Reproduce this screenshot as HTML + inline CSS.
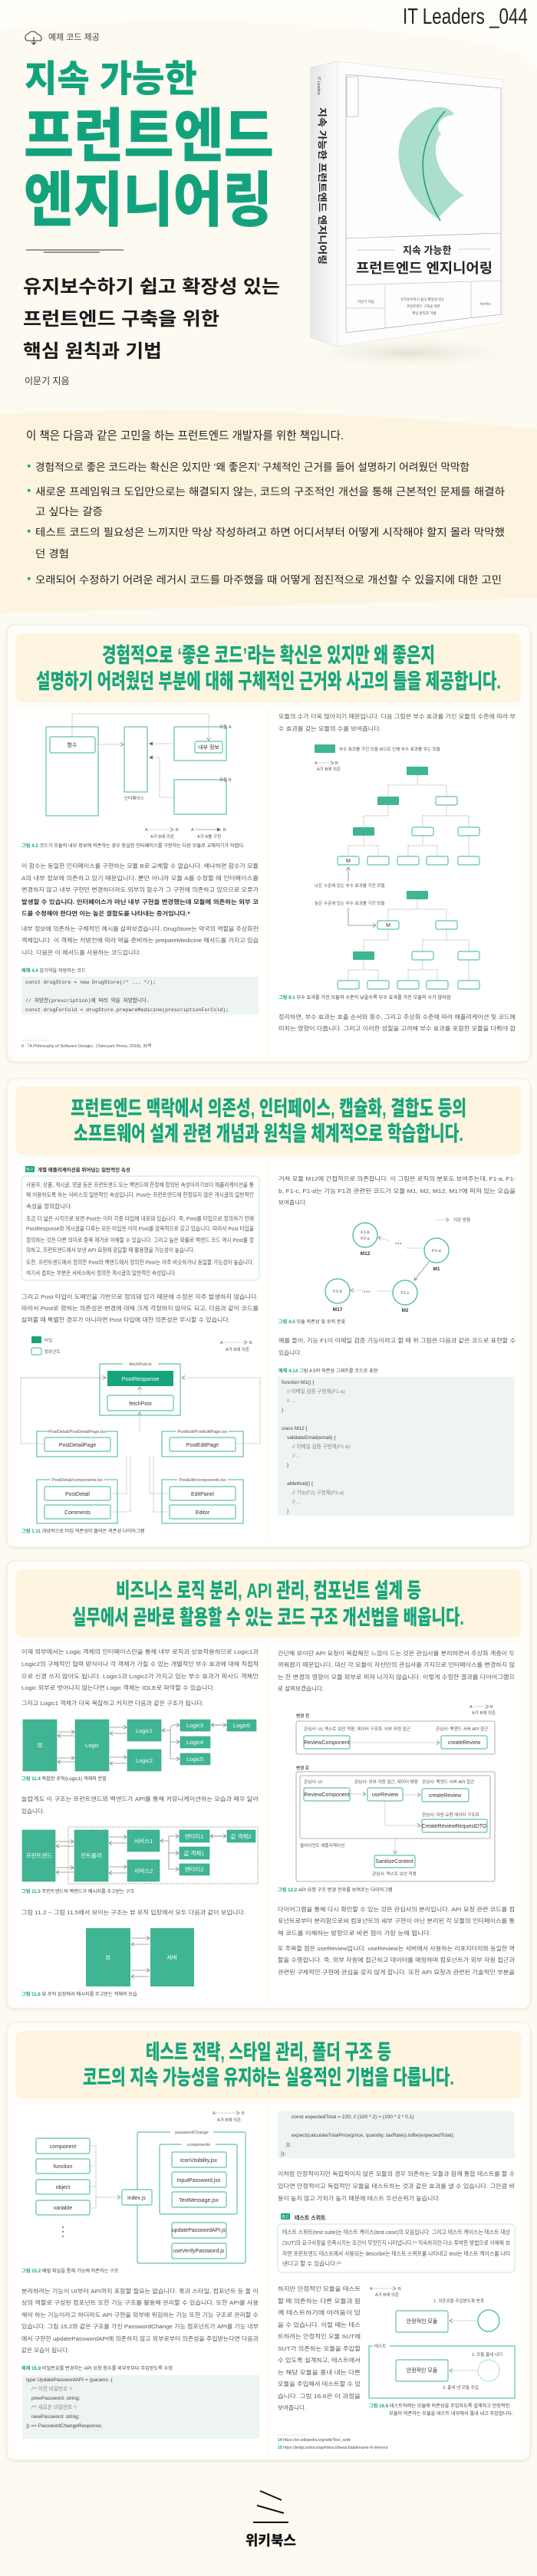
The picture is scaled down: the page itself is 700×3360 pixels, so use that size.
<!DOCTYPE html>
<html><head><meta charset="utf-8">
<style>
html,body{margin:0;padding:0;background:#fcfaf1;}
svg{display:block;}
text{font-family:"Liberation Sans","Noto Sans CJK KR",sans-serif;}
.b{font-size:7.6px;fill:#5a5a5a;}
.bs{font-size:7.6px;fill:#5a5a5a;font-family:"Noto Serif CJK SC","Liberation Serif",serif;}
.cap{font-size:6.2px;fill:#444;}
.capg{font-size:6.2px;fill:#1aa57c;font-weight:700;}
.code{font-size:6.6px;fill:#444;font-family:"Liberation Mono","Noto Sans CJK KR",monospace;}
.sm{font-size:5.6px;fill:#555;}
.nd{font-size:7px;fill:#333;text-anchor:middle;}
.ndw{font-size:7.5px;fill:#fff;text-anchor:middle;}
.h{font-size:27px;font-weight:900;fill:#17a57b;}
.box{fill:#fff;stroke:#5fc4a5;stroke-width:1.2;}
.gbox{fill:#3fb594;}
.fr{fill:none;stroke:#5fc4a5;stroke-width:1.2;}
.dl{fill:none;stroke:#9a9a9a;stroke-width:.8;stroke-dasharray:1.4 1.2;}
.sl{fill:none;stroke:#8a8a8a;stroke-width:.8;}
</style></head><body>
<svg width="700" height="3360" viewBox="0 0 700 3360" xmlns="http://www.w3.org/2000/svg">
<defs>
<marker id="a" markerWidth="6" markerHeight="6" refX="5" refY="3" orient="auto" markerUnits="userSpaceOnUse"><path d="M1,0.5 L5,3 L1,5.5" fill="none" stroke="#888" stroke-width=".8"/></marker>
<marker id="f" markerWidth="6" markerHeight="6" refX="5" refY="3" orient="auto" markerUnits="userSpaceOnUse"><path d="M0,0.5 L5,3 L0,5.5z" fill="#666"/></marker>
<filter id="sh" x="-5%" y="-5%" width="110%" height="110%"><feDropShadow dx="0" dy="1" stdDeviation="1.5" flood-color="#000" flood-opacity=".08"/></filter>
<linearGradient id="sp" x1="0" x2="1"><stop offset="0" stop-color="#e6e6e6"/><stop offset="1" stop-color="#fbfbfb"/></linearGradient>
<radialGradient id="bs" cx=".5" cy=".5" r=".5"><stop offset="0" stop-color="#d9d4c4" stop-opacity=".7"/><stop offset="1" stop-color="#fcfaf1" stop-opacity="0"/></radialGradient>
</defs>

<!-- HERO -->
<rect x="0" y="0" width="700" height="800" fill="#fcfaf1"/>
<path d="M0,40 Q300,10 620,55 Q690,70 700,90 L700,0 L0,0z" fill="#fefdf8"/>
<text x="525" y="31" font-size="29" font-weight="300" fill="#222" textLength="163" lengthAdjust="spacingAndGlyphs">IT Leaders _044</text>
<g transform="translate(32,41)"><path d="M3,12 a5,5 0 0 1 2,-9 a7,7 0 0 1 12,1 a5,5 0 0 1 4,8 z" fill="none" stroke="#333" stroke-width="1"/><path d="M12,7 v10 M9,14 l3,3 l3,-3" fill="none" stroke="#333" stroke-width="1"/></g>
<text x="63" y="52" font-size="11" fill="#444">예제 코드 제공</text>
<text x="32" y="119" font-size="48" font-weight="900" fill="#13a37c" textLength="225" lengthAdjust="spacingAndGlyphs">지속 가능한</text>
<text x="31" y="204" font-size="76" font-weight="900" fill="#13a37c" textLength="326" lengthAdjust="spacingAndGlyphs">프런트엔드</text>
<text x="31" y="288" font-size="78" font-weight="900" fill="#13a37c" textLength="324" lengthAdjust="spacingAndGlyphs">엔지니어링</text>
<line x1="34" y1="326" x2="161" y2="326" stroke="#333" stroke-width="1"/>
<line x1="57" y1="329" x2="130" y2="329" stroke="#333" stroke-width="1"/>
<text x="30" y="382" font-size="24" font-weight="700" fill="#1a1a1a" textLength="335" lengthAdjust="spacingAndGlyphs">유지보수하기 쉽고 확장성 있는</text>
<text x="30" y="424" font-size="24" font-weight="700" fill="#1a1a1a" textLength="256" lengthAdjust="spacingAndGlyphs">프런트엔드 구축을 위한</text>
<text x="30" y="466" font-size="24" font-weight="700" fill="#1a1a1a" textLength="181" lengthAdjust="spacingAndGlyphs">핵심 원칙과 기법</text>
<text x="32" y="501" font-size="12" fill="#333">이문기 지음</text>

<!-- book -->
<ellipse cx="535" cy="460" rx="150" ry="22" fill="url(#bs)"/>
<polygon points="405,88 440,80 440,452 405,440" fill="url(#sp)" stroke="#d5d5d5" stroke-width=".6"/>
<polygon points="440,80 655,104 655,420 440,452" fill="#fdfdfd" stroke="#ddd" stroke-width=".6"/>
<polygon points="451,97 653,115 653,410 451,434" fill="none" stroke="#999" stroke-width=".6"/>
<line x1="451" y1="311" x2="653" y2="304" stroke="#999" stroke-width=".6"/>
<line x1="451" y1="372" x2="653" y2="366" stroke="#aaa" stroke-width=".5"/>
<line x1="502" y1="372" x2="502" y2="428" stroke="#aaa" stroke-width=".5"/>
<line x1="614" y1="368" x2="614" y2="414" stroke="#aaa" stroke-width=".5"/>
<line x1="451" y1="402" x2="502" y2="402" stroke="#aaa" stroke-width=".5"/>
<rect x="452" y="100" width="15" height="52" fill="none" stroke="#999" stroke-width=".5"/>
<path d="M570,285 C520,250 505,190 535,160 C555,135 585,135 592,150 C575,150 565,165 575,175 C560,190 568,230 605,255 C590,262 585,272 570,285z" fill="#8fd3b9" opacity=".75"/>
<path d="M574,288 C545,240 540,190 580,145" fill="none" stroke="#17a57b" stroke-width="1.6"/>
<text x="525" y="331" font-size="13" font-weight="700" fill="#222">지속 가능한</text>
<line x1="466" y1="326" x2="515" y2="326" stroke="#999" stroke-width=".5"/>
<line x1="598" y1="325" x2="640" y2="325" stroke="#999" stroke-width=".5"/>
<text x="464" y="356" font-size="18" font-weight="700" fill="#222" textLength="178" lengthAdjust="spacingAndGlyphs">프런트엔드 엔지니어링</text>
<text x="522" y="392" font-size="4.5" fill="#555">유지보수하기 쉽고 확장성 있는</text>
<text x="530" y="401" font-size="4.5" fill="#555">프런트엔드 구축을 위한</text>
<text x="537" y="410" font-size="4.5" fill="#555">핵심 원칙과 기법</text>
<text x="466" y="395" font-size="4.5" fill="#555">이문기 지음</text>
<text x="626" y="398" font-size="4" fill="#555">위키북스</text>
<text transform="translate(416,140) rotate(90)" font-size="12" font-weight="700" fill="#222" textLength="205" lengthAdjust="spacingAndGlyphs">지속 가능한 프런트엔드 엔지니어링</text>
<text transform="translate(414,100) rotate(90)" font-size="5" fill="#444">IT Leaders</text>

<!-- band -->
<path d="M0,540 Q350,525 700,560 L700,780 L0,800z" fill="#fcf4df"/>
<text x="34" y="573" font-size="15" fill="#222" textLength="414" lengthAdjust="spacingAndGlyphs">이 책은 다음과 같은 고민을 하는 프런트엔드 개발자를 위한 책입니다.</text>
<g font-size="13.5" fill="#222">
<rect x="36" y="606" width="3.5" height="3.5" fill="#19a57c"/>
<text x="46" y="614" textLength="566" lengthAdjust="spacingAndGlyphs">경험적으로 좋은 코드라는 확신은 있지만 ‘왜 좋은지’ 구체적인 근거를 들어 설명하기 어려웠던 막막함</text>
<rect x="36" y="638" width="3.5" height="3.5" fill="#19a57c"/>
<text x="46" y="646" textLength="612" lengthAdjust="spacingAndGlyphs">새로운 프레임워크 도입만으로는 해결되지 않는, 코드의 구조적인 개선을 통해 근본적인 문제를 해결하</text>
<text x="46" y="672" textLength="88" lengthAdjust="spacingAndGlyphs">고 싶다는 갈증</text>
<rect x="36" y="691" width="3.5" height="3.5" fill="#19a57c"/>
<text x="46" y="699" textLength="612" lengthAdjust="spacingAndGlyphs">테스트 코드의 필요성은 느끼지만 막상 작성하려고 하면 어디서부터 어떻게 시작해야 할지 몰라 막막했</text>
<text x="46" y="727" textLength="44" lengthAdjust="spacingAndGlyphs">던 경험</text>
<rect x="36" y="753" width="3.5" height="3.5" fill="#19a57c"/>
<text x="46" y="761" textLength="608" lengthAdjust="spacingAndGlyphs">오래되어 수정하기 어려운 레거시 코드를 마주했을 때 어떻게 점진적으로 개선할 수 있을지에 대한 고민</text>
</g>

<!-- CARDS -->
<g filter="url(#sh)">
<rect x="9" y="815" width="682" height="570" rx="10" fill="#fefdf9" stroke="#eeebdf"/>
<rect x="9" y="1407" width="682" height="611" rx="10" fill="#fefdf9" stroke="#eeebdf"/>
<rect x="9" y="2036" width="682" height="584" rx="10" fill="#fefdf9" stroke="#eeebdf"/>
<rect x="9" y="2638" width="682" height="571" rx="10" fill="#fefdf9" stroke="#eeebdf"/>
</g>
<rect x="20" y="826" width="660" height="90" rx="10" fill="#fdf5df"/>
<rect x="20" y="1417" width="660" height="90" rx="10" fill="#fdf5df"/>
<rect x="20" y="2047" width="660" height="89" rx="10" fill="#fdf5df"/>
<rect x="20" y="2649" width="660" height="89" rx="10" fill="#fdf5df"/>
<g fill="#fffffd">
<rect x="20" y="923" width="327" height="455"/><rect x="353" y="923" width="327" height="455"/>
<rect x="20" y="1514" width="327" height="497"/><rect x="353" y="1514" width="327" height="497"/>
<rect x="20" y="2143" width="327" height="470"/><rect x="353" y="2143" width="327" height="470"/>
<rect x="20" y="2745" width="327" height="457"/><rect x="353" y="2745" width="327" height="457"/>
</g>

<text class="h" x="133" y="864" textLength="434" lengthAdjust="spacingAndGlyphs">경험적으로 ‘좋은 코드’라는 확신은 있지만 왜 좋은지</text>
<text class="h" x="47" y="898" textLength="606" lengthAdjust="spacingAndGlyphs">설명하기 어려웠던 부분에 대해 구체적인 근거와 사고의 틀을 제공합니다.</text>
<text class="h" x="92" y="1455" textLength="516" lengthAdjust="spacingAndGlyphs">프런트엔드 맥락에서 의존성, 인터페이스, 캡슐화, 결합도 등의</text>
<text class="h" x="96" y="1488" textLength="508" lengthAdjust="spacingAndGlyphs">소프트웨어 설계 관련 개념과 원칙을 체계적으로 학습합니다.</text>
<text class="h" x="151" y="2084" textLength="398" lengthAdjust="spacingAndGlyphs">비즈니스 로직 분리, API 관리, 컴포넌트 설계 등</text>
<text class="h" x="94" y="2119" textLength="511" lengthAdjust="spacingAndGlyphs">실무에서 곧바로 활용할 수 있는 코드 구조 개선법을 배웁니다.</text>
<text class="h" x="190" y="2686" textLength="320" lengthAdjust="spacingAndGlyphs">테스트 전략, 스타일 관리, 폴더 구조 등</text>
<text class="h" x="108" y="2719" textLength="484" lengthAdjust="spacingAndGlyphs">코드의 지속 가능성을 유지하는 실용적인 기법을 다룹니다.</text>

<!-- SECTION 1 LEFT -->
<rect x="60" y="948" width="68" height="116" class="fr"/>
<rect x="65" y="961" width="59" height="21" rx="2" class="box"/>
<text class="nd" x="94" y="974">함수</text>
<rect x="162" y="948" width="30" height="85" class="fr"/>
<text class="sm" x="162" y="1043">인터페이스</text>
<rect x="227" y="948" width="68" height="44" class="fr"/>
<text class="sm" x="286" y="950">모듈 A</text>
<rect x="254" y="967" width="36" height="15" rx="2" class="box"/>
<text class="nd" x="272" y="977" font-size="6">내부 정보</text>
<rect x="227" y="1017" width="68" height="45" class="fr"/>
<text class="sm" x="286" y="1019">모듈 B</text>
<path class="dl" d="M94,961 V931 H272 V966" marker-end="url(#a)"/>
<path class="dl" d="M124,971 H161" marker-end="url(#a)"/>
<path class="dl" d="M227,970 H194" marker-end="url(#f)"/>
<path class="dl" d="M227,1040 H208 V988 H194" marker-end="url(#f)"/>
<text class="sm" x="189" y="1084">A</text><path class="dl" d="M195,1082 H226" marker-end="url(#a)"/><text class="sm" x="229" y="1084">B</text>
<text class="sm" x="196" y="1093">A가 B에 의존</text>
<text class="sm" x="249" y="1084">A</text><path class="sl" d="M255,1082 H288" marker-end="url(#f)"/><text class="sm" x="291" y="1084">B</text>
<text class="sm" x="257" y="1093">A가 B를 구현</text>
<text x="28" y="1105"><tspan class="capg">그림 4.2 </tspan><tspan class="cap">코드가 모듈의 내부 정보에 의존하는 경우 동일한 인터페이스를 구현하는 다른 모듈로 교체하기가 어렵다.</tspan></text>
<g class="bs">
<text x="28" y="1132" textLength="309" lengthAdjust="spacingAndGlyphs">이 함수는 동일한 인터페이스를 구현하는 모듈 B로 교체할 수 없습니다. 왜냐하면 함수가 모듈</text>
<text x="28" y="1148" textLength="309" lengthAdjust="spacingAndGlyphs">A의 내부 정보에 의존하고 있기 때문입니다. 뿐만 아니라 모듈 A를 수정할 때 인터페이스를</text>
<text x="28" y="1163" textLength="309" lengthAdjust="spacingAndGlyphs">변경하지 않고 내부 구현만 변경하더라도 외부의 함수가 그 구현에 의존하고 있으므로 오류가</text>
<text x="28" y="1179" textLength="309" lengthAdjust="spacingAndGlyphs" font-weight="700" fill="#333">발생할 수 있습니다. 인터페이스가 아닌 내부 구현을 변경했는데 모듈에 의존하는 외부 코</text>
<text x="28" y="1194" textLength="220" lengthAdjust="spacingAndGlyphs" font-weight="700" fill="#333">드를 수정해야 한다면 이는 높은 결합도를 나타내는 증거입니다.⁶</text>
<text x="28" y="1214" textLength="309" lengthAdjust="spacingAndGlyphs">내부 정보에 의존하는 구체적인 예시를 살펴보겠습니다. DrugStore는 약국의 역할을 추상화한</text>
<text x="28" y="1229" textLength="309" lengthAdjust="spacingAndGlyphs">객체입니다. 이 객체는 처방전에 따라 약을 준비하는 prepareMedicine 메서드를 가지고 있습</text>
<text x="28" y="1245" textLength="156" lengthAdjust="spacingAndGlyphs">니다. 다음은 이 메서드를 사용하는 코드입니다.</text>
</g>
<text x="28" y="1268"><tspan class="capg">예제 4.4 </tspan><tspan class="cap">감기약을 처방하는 코드</tspan></text>
<rect x="28" y="1274" width="309" height="49" fill="#eef4f1"/>
<text class="code" x="33" y="1283">const drugStore = new DrugStore(/* ... */);</text>
<text class="code" x="33" y="1307" fill="#888">// 처방전(prescription)에 따라 약을 처방합니다.</text>
<text class="code" x="33" y="1319">const drugForCold = drugStore.prepareMedicine(prescriptionForCold);</text>
<line x1="28" y1="1357" x2="64" y2="1357" stroke="#ccc" stroke-width=".6"/>
<text class="sm" x="28" y="1366">6  『A Philosophy of Software Design』(Yaknyam Press, 2018), 35쪽</text>

<!-- SECTION 1 RIGHT -->
<g class="bs">
<text x="363" y="937" textLength="309" lengthAdjust="spacingAndGlyphs">모듈의 수가 더욱 많아지기 때문입니다. 다음 그림은 부수 효과를 가진 모듈의 수준에 따라 부</text>
<text x="363" y="953" textLength="134" lengthAdjust="spacingAndGlyphs">수 효과를 갖는 모듈의 수를 보여줍니다.</text>
<text x="363" y="1329" textLength="309" lengthAdjust="spacingAndGlyphs">정리하면, 부수 효과는 호출 순서와 횟수, 그리고 추상화 수준에 따라 애플리케이션 및 코드에</text>
<text x="363" y="1344" textLength="309" lengthAdjust="spacingAndGlyphs">미치는 영향이 다릅니다. 그리고 이러한 성질을 고려해 부수 효과를 포함한 모듈을 다뤄야 합</text>
</g>
<rect x="410" y="971" width="27" height="11" rx="1" class="gbox"/>
<text class="sm" x="442" y="979">부수 효과를 가진 모듈 M으로 인해 부수 효과를 갖는 모듈</text>
<text class="sm" x="410" y="997">A</text><path class="dl" d="M415,995 H435" marker-end="url(#a)"/><text class="sm" x="437" y="997">B</text>
<text class="sm" x="413" y="1005">A가 B에 의존</text>
<g id="t1">
<path class="dl" d="M544,1011 V1024 M506,1024 H582 M506,1024 V1038 M582,1024 V1038 M506,1050 V1064 H474 V1078 M582,1050 V1064 M551,1064 H611 M551,1064 V1078 M611,1064 V1078 M474,1090 V1103 M454,1103 H493 M454,1103 V1116 M493,1103 V1116 M551,1090 V1103 M532,1103 H570 M532,1103 V1116 M570,1103 V1116 M611,1090 V1116"/>
<rect x="530" y="1000" width="28" height="11" rx="1" class="gbox"/>
<rect x="492" y="1039" width="28" height="11" rx="1" class="gbox"/>
<rect x="568" y="1039" width="28" height="11" rx="2" class="box"/>
<rect x="460" y="1079" width="28" height="11" rx="1" class="gbox"/>
<rect x="537" y="1079" width="28" height="11" rx="2" class="box"/>
<rect x="597" y="1079" width="28" height="11" rx="2" class="box"/>
<rect x="440" y="1117" width="28" height="11" rx="2" class="box"/>
<rect x="479" y="1117" width="28" height="11" rx="2" class="box"/>
<rect x="518" y="1117" width="28" height="11" rx="2" class="box"/>
<rect x="556" y="1117" width="28" height="11" rx="2" class="box"/>
<rect x="597" y="1117" width="28" height="11" rx="2" class="box"/>
</g>
<text class="nd" x="454" y="1125" font-size="6">M</text>
<path class="sl" d="M454,1150 V1131" marker-end="url(#a)"/>
<text class="sm" x="410" y="1157">낮은 수준에 있는 부수 효과를 가진 모듈</text>
<use href="#t1" transform="translate(0,162)"/>
<rect x="492" y="1201" width="28" height="11" rx="2" class="box"/>
<text class="nd" x="506" y="1209" font-size="6">M</text>
<text class="sm" x="410" y="1180">높은 수준에 있는 부수 효과를 가진 모듈</text>
<path class="sl" d="M454,1184 V1207 H490" marker-end="url(#a)"/>
<text x="363" y="1303"><tspan class="capg">그림 9.1 </tspan><tspan class="cap">부수 효과를 가진 모듈의 수준이 낮을수록 부수 효과를 가진 모듈의 수가 많아짐</tspan></text>

<!-- SECTION 2 LEFT -->
<rect x="33" y="1521" width="12" height="8" rx="1" fill="#19a57c"/><text x="34" y="1527" font-size="5" fill="#fff">참고</text>
<text x="49" y="1528" font-size="6.5" font-weight="700" fill="#333">개별 애플리케이션을 뛰어넘는 일반적인 속성</text>
<rect x="28" y="1534" width="310" height="136" rx="5" fill="#fff" stroke="#cdeee2" stroke-width="1.2"/>
<g class="b" font-size="6.4">
<text x="34" y="1548" textLength="297" lengthAdjust="spacingAndGlyphs">사용자, 상품, 게시글, 댓글 등은 프런트엔드 또는 백엔드에 한정해 정의된 속성이라기보다 애플리케이션을 통</text>
<text x="34" y="1561" textLength="297" lengthAdjust="spacingAndGlyphs">해 이용하도록 하는 서비스의 일반적인 속성입니다. Post는 프런트엔드에 한정되지 않은 게시글의 일반적인</text>
<text x="34" y="1576">속성을 정의합니다.</text>
<text x="34" y="1592" textLength="297" lengthAdjust="spacingAndGlyphs">조금 더 넓은 시각으로 보면 Post는 이미 각종 타입에 내포돼 있습니다. 즉, Post를 타입으로 정의하기 전에</text>
<text x="34" y="1605" textLength="297" lengthAdjust="spacingAndGlyphs">PostResponse와 게시글을 다루는 모든 타입은 이미 Post를 암묵적으로 갖고 있습니다. 따라서 Post 타입을</text>
<text x="34" y="1620" textLength="297" lengthAdjust="spacingAndGlyphs">정의하는 것은 다른 의미로 중복 제거로 이해할 수 있습니다. 그리고 높은 확률로 백엔드 코드 역시 Post를 정</text>
<text x="34" y="1633" textLength="220" lengthAdjust="spacingAndGlyphs">의하고, 프런트엔드에서 보낸 API 요청에 응답할 때 활용했을 가능성이 높습니다.</text>
<text x="34" y="1649" textLength="297" lengthAdjust="spacingAndGlyphs">또한, 프런트엔드에서 정의한 Post와 백엔드에서 정의한 Post는 아주 비슷하거나 동일할 가능성이 높습니다.</text>
<text x="34" y="1663" textLength="196" lengthAdjust="spacingAndGlyphs">여기서 겹치는 부분은 서비스에서 정의한 게시글의 일반적인 속성입니다.</text>
</g>
<g class="bs">
<text x="28" y="1694" textLength="309" lengthAdjust="spacingAndGlyphs">그리고 Post 타입이 도메인을 기반으로 정의돼 있기 때문에 수정은 자주 발생하지 않습니다.</text>
<text x="28" y="1709" textLength="309" lengthAdjust="spacingAndGlyphs">따라서 Post로 향하는 의존성은 변경에 대해 크게 걱정하지 않아도 되고, 다음과 같이 코드를</text>
<text x="28" y="1724" textLength="272" lengthAdjust="spacingAndGlyphs">살펴볼 때 특별한 경우가 아니라면 Post 타입에 대한 의존성은 무시할 수 있습니다.</text>
</g>
<rect x="41" y="1743" width="13" height="9" rx="1" fill="#17a57b"/><text class="sm" x="58" y="1750">타입</text>
<rect x="41" y="1758" width="13" height="9" rx="2" class="box"/><text class="sm" x="58" y="1765">컴포넌트</text>
<text class="sm" x="287" y="1753">A</text><path class="dl" d="M293,1751 H322" marker-end="url(#a)"/><text class="sm" x="325" y="1753">B</text>
<text class="sm" x="294" y="1762">A가 B에 의존</text>
<path class="dl" d="M140,1797 H27 V1883 H58" />
<path class="dl" d="M27,1797 H138" marker-end="url(#a)"/>
<path class="dl" d="M339,1883 H307 M339,1883 V1797 H237" marker-end="url(#a)"/>
<path class="dl" d="M182,1867 V1842" marker-end="url(#a)"/>
<path class="dl" d="M182,1820 V1809" marker-end="url(#a)"/>
<path class="dl" d="M170,1900 V1972 H146 M165,1900 V1948 H146" />
<path class="dl" d="M195,1900 V1948 H219 M200,1900 V1972 H219" />
<rect x="130" y="1779" width="105" height="67" class="fr"/>
<rect x="160" y="1776" width="46" height="6" fill="#fffffd"/><text class="sm" x="183" y="1781" text-anchor="middle" font-size="4.8">fetchPost.ts</text>
<rect x="140" y="1788" width="86" height="20" class="gbox" fill="#17a57b" style="fill:#17a57b"/>
<text class="ndw" x="183" y="1801">PostResponse</text>
<rect x="140" y="1820" width="86" height="20" rx="2" class="box"/><text class="nd" x="183" y="1833">fetchPost</text>
<rect x="48" y="1867" width="105" height="33" class="fr"/>
<rect x="64" y="1864" width="74" height="6" fill="#fffffd"/><text class="sm" x="101" y="1869" text-anchor="middle" font-size="4.6">PostDetail/PostDetailPage.tsx</text>
<rect x="58" y="1875" width="86" height="18" rx="2" class="box"/><text class="nd" x="101" y="1887">PostDetailPage</text>
<rect x="211" y="1867" width="106" height="33" class="fr"/>
<rect x="230" y="1864" width="68" height="6" fill="#fffffd"/><text class="sm" x="264" y="1869" text-anchor="middle" font-size="4.6">PostEdit/PostEditPage.tsx</text>
<rect x="221" y="1875" width="86" height="18" rx="2" class="box"/><text class="nd" x="264" y="1887">PostEditPage</text>
<rect x="48" y="1930" width="105" height="57" class="fr"/>
<rect x="66" y="1927" width="70" height="6" fill="#fffffd"/><text class="sm" x="101" y="1932" text-anchor="middle" font-size="4.6">PostDetail/components.tsx</text>
<rect x="58" y="1939" width="86" height="18" rx="2" class="box"/><text class="nd" x="101" y="1951">PostDetail</text>
<rect x="58" y="1963" width="86" height="18" rx="2" class="box"/><text class="nd" x="101" y="1975">Comments</text>
<rect x="211" y="1930" width="106" height="57" class="fr"/>
<rect x="231" y="1927" width="66" height="6" fill="#fffffd"/><text class="sm" x="264" y="1932" text-anchor="middle" font-size="4.6">PostEdit/components.tsx</text>
<rect x="221" y="1939" width="86" height="18" rx="2" class="box"/><text class="nd" x="264" y="1951">EditPanel</text>
<rect x="221" y="1963" width="86" height="18" rx="2" class="box"/><text class="nd" x="264" y="1975">Editor</text>
<text x="28" y="1999"><tspan class="capg">그림 1.11 </tspan><tspan class="cap">개념적으로 타입 의존성이 줄어든 의존성 다이어그램</tspan></text>

<!-- SECTION 2 RIGHT -->
<g class="bs">
<text x="363" y="1540" textLength="309" lengthAdjust="spacingAndGlyphs">거쳐 모듈 M12에 간접적으로 의존합니다. 이 그림은 로직의 분포도 보여주는데, F1-a, F1-</text>
<text x="363" y="1556" textLength="309" lengthAdjust="spacingAndGlyphs">b, F1-c, F1-d는 기능 F1과 관련된 코드가 모듈 M1, M2, M12, M17에 퍼져 있는 모습을</text>
<text x="363" y="1571">보여줍니다.</text>
<text x="363" y="1751" textLength="309" lengthAdjust="spacingAndGlyphs">예를 들어, 기능 F1이 이메일 검증 기능이라고 할 때 위 그림은 다음과 같은 코드로 표현할 수</text>
<text x="363" y="1767">있습니다.</text>
</g>
<path class="dl" d="M568,1591 H585" marker-end="url(#a)"/><text class="sm" x="591" y="1593">의존 방향</text>
<g fill="#fff" stroke="#3fb594" stroke-width="1.2">
<circle cx="476" cy="1611" r="16"/><circle cx="569" cy="1631" r="16"/><circle cx="440" cy="1684" r="16"/><circle cx="528" cy="1686" r="16"/>
</g>
<text class="sm" x="476" y="1609" text-anchor="middle">F1-b</text><text class="sm" x="476" y="1617" text-anchor="middle">F2-a</text>
<text class="sm" x="569" y="1633" text-anchor="middle">F1-a</text>
<text class="sm" x="440" y="1686" text-anchor="middle">F1-d</text>
<text class="sm" x="528" y="1688" text-anchor="middle">F1-c</text>
<text x="476" y="1637" font-size="6.5" font-weight="700" fill="#333" text-anchor="middle">M12</text>
<text x="569" y="1657" font-size="6.5" font-weight="700" fill="#333" text-anchor="middle">M1</text>
<text x="440" y="1710" font-size="6.5" font-weight="700" fill="#333" text-anchor="middle">M17</text>
<text x="528" y="1711" font-size="6.5" font-weight="700" fill="#333" text-anchor="middle">M2</text>
<path class="dl" d="M553,1628 H530 M506,1618 L493,1614" marker-end="url(#a)"/>
<text x="515" y="1625" font-size="9" font-weight="700" fill="#444">···</text>
<path class="sl" d="M560,1645 L540,1670" marker-end="url(#a)"/>
<path class="dl" d="M512,1684 H492 M474,1683 H457" marker-end="url(#a)"/>
<text x="474" y="1688" font-size="9" font-weight="700" fill="#444">···</text>
<text x="363" y="1726"><tspan class="capg">그림 4.5 </tspan><tspan class="cap">모듈 의존성 및 로직 분포</tspan></text>
<text x="363" y="1790"><tspan class="capg">예제 4.14 </tspan><tspan class="cap">그림 4.5의 의존성 그래프를 코드로 표현</tspan></text>
<rect x="362" y="1796" width="309" height="181" fill="#eef4f1"/>
<g class="code">
<text x="367" y="1805">function M1() {</text>
<text x="374" y="1817" fill="#888">// 이메일 검증 구현체(F1-a)</text>
<text x="374" y="1829" fill="#888">// ...</text>
<text x="367" y="1841">}</text>
<text x="367" y="1865">class M12 {</text>
<text x="374" y="1877">validateEmail(email) {</text>
<text x="381" y="1889" fill="#888">// 이메일 검증 구현체(F1-b)</text>
<text x="381" y="1901" fill="#888">// ...</text>
<text x="374" y="1913">}</text>
<text x="374" y="1937">aMethod() {</text>
<text x="381" y="1949" fill="#888">// 기능(F2) 구현체(F2-a)</text>
<text x="381" y="1961" fill="#888">// ...</text>
<text x="374" y="1973">}</text>
</g>

<!-- SECTION 3 LEFT -->
<g class="bs">
<text x="28" y="2157" textLength="309" lengthAdjust="spacingAndGlyphs">이제 외부에서는 Logic 객체의 인터페이스만을 통해 내부 로직과 상호작용하므로 Logic1과</text>
<text x="28" y="2173" textLength="309" lengthAdjust="spacingAndGlyphs">Logic2의 구체적인 협력 방식이나 각 객체가 가질 수 있는 개별적인 부수 효과에 대해 직접적</text>
<text x="28" y="2189" textLength="309" lengthAdjust="spacingAndGlyphs">으로 신경 쓰지 않아도 됩니다. Logic1과 Logic2가 가지고 있는 부수 효과가 파사드 객체인</text>
<text x="28" y="2204" textLength="252" lengthAdjust="spacingAndGlyphs">Logic 외부로 벗어나지 않는다면 Logic 객체는 IOLE로 파악할 수 있습니다.</text>
<text x="28" y="2224" textLength="238" lengthAdjust="spacingAndGlyphs">그리고 Logic1 객체가 더욱 복잡하고 커지면 다음과 같은 구조가 됩니다.</text>
<text x="28" y="2349" textLength="309" lengthAdjust="spacingAndGlyphs">놀랍게도 이 구조는 프런트엔드와 백엔드가 API를 통해 커뮤니케이션하는 모습과 매우 닮아</text>
<text x="28" y="2365">있습니다.</text>
<text x="28" y="2497" textLength="292" lengthAdjust="spacingAndGlyphs">그림 11.2 ~ 그림 11.5에서 보이는 구조는 뷰 로직 입장에서 모두 다음과 같이 보입니다.</text>
</g>
<g class="gbox" stroke="#33a586" stroke-width=".6">
<rect x="30" y="2243" width="44" height="67"/><rect x="98" y="2243" width="44" height="67"/>
<rect x="166" y="2243" width="44" height="28"/><rect x="166" y="2282" width="44" height="28"/>
<rect x="235" y="2243" width="39" height="15"/><rect x="235" y="2265" width="39" height="15"/><rect x="235" y="2287" width="39" height="15"/><rect x="296" y="2243" width="38" height="15"/>
</g>
<text class="ndw" x="52" y="2279">뷰</text><text class="ndw" x="120" y="2279">Logic</text>
<text class="ndw" x="188" y="2260">Logic1</text><text class="ndw" x="188" y="2299">Logic2</text>
<text class="ndw" x="254" y="2253" font-size="6.5">Logic3</text><text class="ndw" x="254" y="2275" font-size="6.5">Logic4</text><text class="ndw" x="254" y="2297" font-size="6.5">Logic5</text><text class="ndw" x="315" y="2253" font-size="6.5">Logic6</text>
<g class="sl">
<path d="M75,2259 H97" marker-end="url(#a)"/><path d="M97,2264 H75" marker-end="url(#a)"/>
<path d="M75,2293 H97" marker-end="url(#a)"/><path d="M97,2298 H75" marker-end="url(#a)"/>
<path d="M143,2253 H165" marker-end="url(#a)"/><path d="M165,2261 H143" marker-end="url(#a)"/>
<path d="M143,2292 H165" marker-end="url(#a)"/><path d="M165,2300 H143" marker-end="url(#a)"/>
<path d="M222,2257 H211" marker-end="url(#a)"/><path d="M222,2257 Q222,2250 228,2250 H234" marker-end="url(#a)"/><path d="M222,2257 V2272 H234" marker-end="url(#a)"/><path d="M222,2272 V2294 H234" marker-end="url(#a)"/>
<path d="M275,2250 H295" marker-end="url(#a)"/><path d="M295,2250 H275" marker-end="url(#a)"/>
</g>
<text x="28" y="2322"><tspan class="capg">그림 11.4 </tspan><tspan class="cap">복잡한 로직(Logic1) 객체의 분할</tspan></text>
<rect x="89" y="2383" width="247" height="74" fill="none" stroke="#777" stroke-width=".8" stroke-dasharray="1.5 1.5"/>
<g class="gbox" stroke="#33a586" stroke-width=".6">
<rect x="29" y="2387" width="43" height="67"/><rect x="97" y="2387" width="44" height="67"/>
<rect x="166" y="2387" width="42" height="28"/><rect x="166" y="2426" width="42" height="28"/>
<rect x="234" y="2387" width="39" height="16"/><rect x="234" y="2409" width="39" height="16"/><rect x="234" y="2431" width="39" height="15"/><rect x="296" y="2387" width="37" height="16"/>
</g>
<text class="ndw" x="51" y="2423" font-size="7">프런트엔드</text><text class="ndw" x="119" y="2423" font-size="7">컨트롤러</text>
<text class="ndw" x="187" y="2404" font-size="7">서비스1</text><text class="ndw" x="187" y="2443" font-size="7">서비스2</text>
<text class="ndw" x="253" y="2398" font-size="6.5">엔티티1</text><text class="ndw" x="253" y="2420" font-size="6.5">값 객체1</text><text class="ndw" x="253" y="2441" font-size="6.5">엔티티2</text><text class="ndw" x="314" y="2398" font-size="6.5">값 객체2</text>
<g class="sl">
<path d="M73,2402 H96" marker-end="url(#a)"/><path d="M96,2408 H73" marker-end="url(#a)"/>
<path d="M73,2436 H96" marker-end="url(#a)"/><path d="M96,2442 H73" marker-end="url(#a)"/>
<path d="M142,2396 H165" marker-end="url(#a)"/><path d="M165,2404 H142" marker-end="url(#a)"/>
<path d="M142,2435 H165" marker-end="url(#a)"/><path d="M165,2443 H142" marker-end="url(#a)"/>
<path d="M220,2401 H209" marker-end="url(#a)"/><path d="M220,2401 V2395 H233" marker-end="url(#a)"/><path d="M220,2401 V2417 H233" marker-end="url(#a)"/><path d="M220,2417 V2438 H233" marker-end="url(#a)"/>
<path d="M274,2395 H295" marker-end="url(#a)"/><path d="M295,2395 H274" marker-end="url(#a)"/>
</g>
<text x="28" y="2469"><tspan class="capg">그림 11.5 </tspan><tspan class="cap">프런트엔드와 백엔드가 메시지를 주고받는 구조</tspan></text>
<rect x="112" y="2515" width="58" height="76" class="gbox"/><rect x="196" y="2515" width="57" height="76" class="gbox"/>
<text class="ndw" x="141" y="2556">뷰</text><text class="ndw" x="224" y="2556">서버</text>
<g class="sl">
<path d="M171,2528 H195" marker-end="url(#a)"/><path d="M195,2536 H171" marker-end="url(#a)"/>
<path d="M171,2570 H195" marker-end="url(#a)"/><path d="M195,2578 H171" marker-end="url(#a)"/>
</g>
<text x="28" y="2603"><tspan class="capg">그림 11.6 </tspan><tspan class="cap">뷰 로직 입장에서 메시지를 주고받는 객체의 모습</tspan></text>

<!-- SECTION 3 RIGHT -->
<g class="bs">
<text x="362" y="2159" textLength="309" lengthAdjust="spacingAndGlyphs">간단해 보이던 API 요청이 복잡해진 느낌이 드는 것은 관심사를 분리하면서 추상화 계층이 두</text>
<text x="362" y="2174" textLength="309" lengthAdjust="spacingAndGlyphs">꺼워졌기 때문입니다. 대신 각 모듈이 자신만의 관심사를 가지므로 인터페이스를 변경하지 않</text>
<text x="362" y="2190" textLength="309" lengthAdjust="spacingAndGlyphs">는 한 변경의 영향이 모듈 외부로 퍼져 나가지 않습니다. 이렇게 수정한 결과를 다이어그램으</text>
<text x="362" y="2205">로 살펴보겠습니다.</text>
<text x="362" y="2493" textLength="309" lengthAdjust="spacingAndGlyphs">다이어그램을 통해 다시 확인할 수 있는 것은 관심사의 분리입니다. API 요청 관련 코드를 컴</text>
<text x="362" y="2508" textLength="309" lengthAdjust="spacingAndGlyphs">포넌트로부터 분리함으로써 컴포넌트의 세부 구현이 아닌 분리된 각 모듈의 인터페이스를 통</text>
<text x="362" y="2524" textLength="200" lengthAdjust="spacingAndGlyphs">해 코드를 이해하는 방향으로 바뀐 점이 가장 눈에 띕니다.</text>
<text x="362" y="2544" textLength="309" lengthAdjust="spacingAndGlyphs">또 주목할 점은 useReview입니다. useReview는 서버에서 사용하는 리포지터리와 동일한 역</text>
<text x="362" y="2559" textLength="309" lengthAdjust="spacingAndGlyphs">할을 수행합니다. 즉, 외부 자원에 접근하고 데이터를 매핑하며 컴포넌트가 외부 자원 접근과</text>
<text x="362" y="2575" textLength="309" lengthAdjust="spacingAndGlyphs">관련된 구체적인 구현에 관심을 갖지 않게 합니다. 또한 API 요청과 관련된 기술적인 부분을</text>
</g>
<text class="sm" x="612" y="2228">A</text><path class="dl" d="M617,2226 H637" marker-end="url(#a)"/><text class="sm" x="639" y="2228">B</text>
<text class="sm" x="615" y="2236">A가 B에 의존</text>
<text class="sm" x="386" y="2240" font-weight="700">변경 전</text>
<rect x="386" y="2245" width="259" height="43" rx="2" fill="#fff" stroke="#999" stroke-width=".8"/>
<text class="sm" x="396" y="2257" font-size="5.2">관심사: UI, 텍스트 보안 적용, 데이터 구조화, 외부 자원 접근</text>
<text class="sm" x="568" y="2257" font-size="5.2">관심사: 백엔드 서버 API 접근</text>
<rect x="396" y="2264" width="60" height="17" rx="2" class="box"/><text class="nd" x="426" y="2275" font-size="5.6">ReviewComponent</text>
<rect x="575" y="2264" width="60" height="17" rx="2" class="box"/><text class="nd" x="605" y="2275" font-size="5.6">createReview</text>
<path class="dl" d="M457,2273 H573" marker-end="url(#a)"/>
<text class="sm" x="386" y="2308" font-weight="700">변경 후</text>
<rect x="386" y="2311" width="259" height="143" rx="2" fill="#fff" stroke="#999" stroke-width=".8"/>
<rect x="391" y="2316" width="248" height="82" rx="2" fill="none" stroke="#999" stroke-width=".8"/>
<text class="sm" x="396" y="2326" font-size="5.2">관심사: UI</text>
<text class="sm" x="462" y="2326" font-size="5.2">관심사: 외부 자원 접근, 데이터 매핑</text>
<text class="sm" x="550" y="2326" font-size="5.2">관심사: 백엔드 서버 API 접근</text>
<rect x="396" y="2332" width="60" height="17" rx="2" class="box"/><text class="nd" x="426" y="2343" font-size="5.6">ReviewComponent</text>
<rect x="479" y="2332" width="46" height="17" rx="2" class="box"/><text class="nd" x="502" y="2343" font-size="5.6">useReview</text>
<rect x="550" y="2333" width="61" height="17" rx="2" class="box"/><text class="nd" x="580" y="2344" font-size="5.6">createReview</text>
<text class="sm" x="550" y="2369" font-size="5.2">관심사: 자원 요청 데이터 구조화</text>
<rect x="550" y="2373" width="85" height="17" rx="2" class="box"/><text class="nd" x="592" y="2384" font-size="5.6">CreateReviewRequestDTO</text>
<path class="dl" d="M457,2340 H477" marker-end="url(#a)"/>
<path class="dl" d="M526,2341 H548" marker-end="url(#a)"/>
<path class="dl" d="M502,2350 V2381 H548" marker-end="url(#a)"/>
<text class="sm" x="391" y="2409" font-size="5.2">클라이언트 애플리케이션</text>
<path class="dl" d="M515,2399 V2418" marker-end="url(#a)"/>
<rect x="488" y="2420" width="53" height="16" rx="2" class="box"/><text class="nd" x="514" y="2430" font-size="5.6">SanitizeContent</text>
<text class="sm" x="514" y="2446" text-anchor="middle" font-size="5.2">관심사: 텍스트 보안 적용</text>
<text x="362" y="2467"><tspan class="capg">그림 12.2 </tspan><tspan class="cap">API 요청 구조 변경 전후를 보여주는 다이어그램</tspan></text>

<!-- SECTION 4 LEFT -->
<text class="sm" x="277" y="2758">A</text><path class="dl" d="M282,2756 H312" marker-end="url(#a)"/><text class="sm" x="315" y="2758">B</text>
<text class="sm" x="283" y="2767">A가 B에 의존</text>
<rect x="179" y="2781" width="141" height="171" rx="2" class="fr"/>
<rect x="222" y="2778" width="56" height="6" fill="#fffffd"/><text class="sm" x="250" y="2783" text-anchor="middle">passwordChange</text>
<rect x="208" y="2797" width="101" height="91" rx="2" class="fr"/>
<rect x="237" y="2794" width="44" height="6" fill="#fffffd"/><text class="sm" x="259" y="2799" text-anchor="middle">components</text>
<rect x="224" y="2807" width="71" height="20" rx="2" class="box"/><text class="nd" x="259" y="2820">IconVisibility.jsx</text>
<rect x="224" y="2833" width="71" height="20" rx="2" class="box"/><text class="nd" x="259" y="2846">InputPassword.jsx</text>
<rect x="224" y="2859" width="71" height="20" rx="2" class="box"/><text class="nd" x="259" y="2872">TextMessage.jsx</text>
<rect x="224" y="2899" width="71" height="20" rx="2" class="box"/><text class="nd" x="259" y="2911" font-size="5.6">updatePasswordAPI.js</text>
<rect x="224" y="2926" width="71" height="20" rx="2" class="box"/><text class="nd" x="259" y="2938" font-size="5.6">useVerifyPassword.js</text>
<rect x="47" y="2789" width="70" height="20" rx="2" class="box"/><text class="nd" x="82" y="2802">component</text>
<rect x="47" y="2816" width="70" height="19" rx="2" class="box"/><text class="nd" x="82" y="2828">function</text>
<rect x="47" y="2843" width="70" height="19" rx="2" class="box"/><text class="nd" x="82" y="2855">object</text>
<rect x="47" y="2870" width="70" height="19" rx="2" class="box"/><text class="nd" x="82" y="2882">variable</text>
<circle cx="82" cy="2905" r=".9" fill="#333"/><circle cx="82" cy="2911" r=".9" fill="#333"/><circle cx="82" cy="2917" r=".9" fill="#333"/>
<path class="dl" d="M117,2799 H125 V2880 H117 M117,2825 H125 M117,2852 H125 M125,2866 H157" marker-end="url(#a)"/>
<rect x="159" y="2856" width="39" height="20" rx="2" class="box"/><text class="nd" x="178" y="2869">index.js</text>
<text x="28" y="2964"><tspan class="capg">그림 15.2 </tspan><tspan class="cap">배럴 파일을 통해 기능에 의존하는 구조</tspan></text>
<g class="bs">
<text x="28" y="2991" textLength="309" lengthAdjust="spacingAndGlyphs">분리하려는 기능이 UI부터 API까지 포함할 필요는 없습니다. 훅과 스타일, 컴포넌트 등 둘 이</text>
<text x="28" y="3006" textLength="309" lengthAdjust="spacingAndGlyphs">상의 역할로 구성된 컴포넌트 또한 기능 구조를 활용해 관리할 수 있습니다. 또한 API를 사용</text>
<text x="28" y="3022" textLength="309" lengthAdjust="spacingAndGlyphs">해야 하는 기능이라고 하더라도 API 구현을 외부에 위임하는 기능 또한 기능 구조로 관리할 수</text>
<text x="28" y="3037" textLength="309" lengthAdjust="spacingAndGlyphs">있습니다. 그림 15.2와 같은 구조를 가진 PasswordChange 기능 컴포넌트가 API를 기능 내부</text>
<text x="28" y="3053" textLength="309" lengthAdjust="spacingAndGlyphs">에서 구현한 updatePasswordAPI에 의존하지 않고 외부로부터 의존성을 주입받는다면 다음과</text>
<text x="28" y="3068">같은 모습이 됩니다.</text>
</g>
<text x="28" y="3091"><tspan class="capg">예제 15.9 </tspan><tspan class="cap">비밀번호를 변경하는 API 요청 함수를 외부로부터 주입받도록 수정</tspan></text>
<rect x="29" y="3098" width="309" height="83" fill="#eef4f1"/>
<g class="code">
<text x="34" y="3106">type UpdatePasswordAPI = (params: {</text>
<text x="41" y="3118" fill="#888">/** 이전 비밀번호 */</text>
<text x="41" y="3130">prevPassword: string;</text>
<text x="41" y="3142" fill="#888">/** 새로운 비밀번호 */</text>
<text x="41" y="3154">newPassword: string;</text>
<text x="34" y="3166">}) => PasswordChangeResponse;</text>
</g>

<!-- SECTION 4 RIGHT -->
<rect x="362" y="2754" width="309" height="61" fill="#eef4f1"/>
<g class="code">
<text x="380" y="2763">const expectedTotal = 220; // (100 * 2) + (100 * 2 * 0.1)</text>
<text x="380" y="2787">expect(calculateTotalPrice(price, quantity, taxRate)).toBe(expectedTotal);</text>
<text x="373" y="2799">});</text>
<text x="366" y="2811">});</text>
</g>
<g class="bs">
<text x="362" y="2838" textLength="309" lengthAdjust="spacingAndGlyphs">이처럼 안정적이지만 독립적이지 않은 모듈의 경우 의존하는 모듈과 함께 통합 테스트를 할 수</text>
<text x="362" y="2854" textLength="309" lengthAdjust="spacingAndGlyphs">있다면 안정적이고 독립적인 모듈을 테스트하는 것과 같은 효과를 낼 수 있습니다. 그만큼 비</text>
<text x="362" y="2870" textLength="212" lengthAdjust="spacingAndGlyphs">용이 높지 않고 가치가 높기 때문에 테스트 우선순위가 높습니다.</text>
</g>
<rect x="366" y="2887" width="12" height="8" rx="1" fill="#19a57c"/><text x="367" y="2893" font-size="5" fill="#fff">참고</text>
<text x="384" y="2895" font-size="7" font-weight="700" fill="#333">테스트 스위트</text>
<rect x="362" y="2901" width="309" height="63" rx="5" fill="#fff" stroke="#cdeee2" stroke-width="1.2"/>
<g class="b" font-size="6.3">
<text x="368" y="2914" textLength="297" lengthAdjust="spacingAndGlyphs">테스트 스위트(test suite)는 테스트 케이스(test case)의 모음입니다. 그리고 테스트 케이스는 테스트 대상</text>
<text x="368" y="2928" textLength="297" lengthAdjust="spacingAndGlyphs">(SUT)의 요구사항을 만족시키는 조건이 무엇인지 나타냅니다.¹⁴ 익숙하지만 다소 투박한 방법으로 이해해 보</text>
<text x="368" y="2942" textLength="297" lengthAdjust="spacingAndGlyphs">자면 프런트엔드 테스트에서 사용되는 describe는 테스트 스위트를 나타내고 test는 테스트 케이스를 나타</text>
<text x="368" y="2955">낸다고 할 수 있습니다.¹⁵</text>
</g>
<g class="bs">
<text x="362" y="2988" textLength="108" lengthAdjust="spacingAndGlyphs">하지만 안정적인 모듈을 테스트</text>
<text x="362" y="3004" textLength="108" lengthAdjust="spacingAndGlyphs">할 때 의존하는 다른 모듈과 함</text>
<text x="362" y="3019" textLength="108" lengthAdjust="spacingAndGlyphs">께 테스트하기에 어려움이 있</text>
<text x="362" y="3035" textLength="108" lengthAdjust="spacingAndGlyphs">을 수 있습니다. 이럴 때는 테스</text>
<text x="362" y="3050" textLength="108" lengthAdjust="spacingAndGlyphs">트하려는 안정적인 모듈 SUT에</text>
<text x="362" y="3066" textLength="108" lengthAdjust="spacingAndGlyphs">SUT가 의존하는 모듈을 주입할</text>
<text x="362" y="3081" textLength="108" lengthAdjust="spacingAndGlyphs">수 있도록 설계하고, 테스트에서</text>
<text x="362" y="3097" textLength="108" lengthAdjust="spacingAndGlyphs">는 해당 모듈을 흉내 내는 다른</text>
<text x="362" y="3112" textLength="108" lengthAdjust="spacingAndGlyphs">모듈을 주입해서 테스트할 수 있</text>
<text x="362" y="3128" textLength="108" lengthAdjust="spacingAndGlyphs">습니다. 그림 16.6은 이 과정을</text>
<text x="362" y="3143">보여줍니다.</text>
</g>
<text class="sm" x="482" y="2987">A</text><path class="dl" d="M487,2985 H516" marker-end="url(#a)"/><text class="sm" x="519" y="2987">B</text>
<text class="sm" x="489" y="2995">A가 B에 의존</text>
<text class="sm" x="565" y="3003">1. 의존성을 주입받도록 변경</text>
<rect x="516" y="3014" width="68" height="28" rx="2" class="box"/><text class="nd" x="550" y="3030" font-size="6">안정적인 모듈</text>
<circle cx="637" cy="3027" r="14" fill="#fff" stroke="#3fb594" stroke-width="1.2"/>
<path class="dl" d="M622,3027 H586" marker-end="url(#a)"/>
<rect x="481" y="3060" width="190" height="68" class="fr"/>
<rect x="486" y="3057" width="22" height="6" fill="#fffffd"/><text class="sm" x="488" y="3062">테스트</text>
<text class="sm" x="615" y="3073">2. 모듈 흉내 내기</text>
<rect x="516" y="3078" width="68" height="28" rx="2" class="box"/><text class="nd" x="550" y="3094" font-size="6">안정적인 모듈</text>
<circle cx="637" cy="3092" r="14" fill="#fff" stroke="#7fd0b6" stroke-width="1" stroke-dasharray="2 1"/>
<path class="dl" d="M622,3092 H586" marker-end="url(#a)"/>
<text class="sm" x="577" y="3116">3. 흉내 낸 모듈 주입</text>
<text x="481" y="3140"><tspan class="capg">그림 16.6 </tspan><tspan class="cap" font-size="5.6">테스트하려는 모듈에 의존성을 주입하도록 설계하고 안정적인</tspan></text>
<text class="cap" x="507" y="3150" font-size="5.6">모듈이 의존하는 모듈을 테스트 내부에서 흉내 내고 주입합니다.</text>
<line x1="362" y1="3176" x2="398" y2="3176" stroke="#ccc" stroke-width=".6"/>
<text x="362" y="3184" font-size="5.2"><tspan fill="#19a57c" font-weight="700">14 </tspan><tspan fill="#555">https://en.wikipedia.org/wiki/Test_suite</tspan></text>
<text x="362" y="3194" font-size="5.2"><tspan fill="#19a57c" font-weight="700">15 </tspan><tspan fill="#555">https://jestjs.io/docs/api#describeeachtablename-fn-timeout</tspan></text>

<!-- FOOTER LOGO -->
<line x1="339" y1="3249" x2="367" y2="3261" stroke="#111" stroke-width="2"/>
<line x1="335" y1="3268" x2="370" y2="3278" stroke="#111" stroke-width="2"/>
<line x1="330" y1="3290" x2="376" y2="3290" stroke="#111" stroke-width="2"/>
<text x="353" y="3320" font-size="18" font-weight="900" fill="#111" text-anchor="middle">위키북스</text>
</svg>
</body></html>
